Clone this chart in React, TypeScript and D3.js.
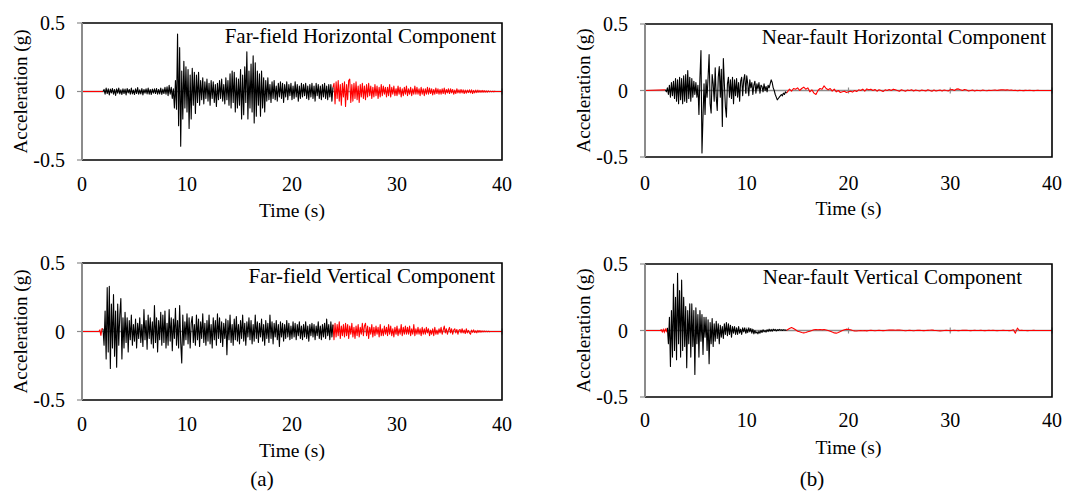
import React from 'react';
import * as d3 from 'd3';

// ---------- data ----------
const timeTicks = [0, 10, 20, 30, 40];
const accTicks = [-0.5, 0, 0.5];
const accTickLabels = ['-0.5', '0', '0.5'];
const panelTitles = [
  'Far-field Horizontal Component',
  'Near-fault Horizontal Component',
  'Far-field Vertical Component',
  'Near-fault Vertical Component',
];
const groupLabels = ['(a)', '(b)'];

// Far-field horizontal (black t0=2, dt=0.1 ; red t0=24, dt=0.1)
const ffhLead = [0, 0];
const ffhBlack = [
  0, 0.015, -0.02, 0.025, -0.015, 0.02, -0.025, 0.018, -0.01, 0.022,
  -0.02, 0.015, -0.028, 0.02, -0.012, 0.025, -0.018, 0.012, -0.022, 0.02,
  -0.015, 0.018, -0.025, 0.022, -0.01, 0.015, -0.02, 0.025, -0.018, 0.01,
  -0.022, 0.02, -0.015, 0.028, -0.02, 0.012, -0.018, 0.022, -0.025, 0.015,
  -0.012, 0.02, -0.018, 0.025, -0.02, 0.015, -0.022, 0.018, -0.012, 0.02,
  -0.015, 0.022, -0.02, 0.015, -0.018, 0.025, -0.022, 0.018, -0.015, 0.03,
  -0.02, 0.035, -0.03, 0.045, -0.02, 0.03, -0.05, 0.02, -0.12, 0.08,
  -0.13, 0.42, -0.25, 0.32, -0.4, 0.15, -0.2, 0.22, -0.12, 0.18,
  -0.15, 0.16, -0.27, 0.12, -0.2, 0.17, -0.1, 0.14, -0.16, 0.12,
  -0.08, 0.14, -0.1, 0.08, -0.06, 0.1, -0.09, 0.07, -0.05, 0.09,
  -0.07, 0.06, -0.1, 0.08, -0.05, 0.07, -0.08, 0.05, -0.11, 0.06,
  -0.06, 0.08, -0.05, 0.09, -0.07, 0.05, -0.09, 0.1, -0.06, 0.08,
  -0.1, 0.13, -0.12, 0.15, -0.08, 0.14, -0.15, 0.1, -0.12, 0.09,
  -0.1, 0.16, -0.2, 0.12, -0.17, 0.18, -0.08, 0.29, -0.2, 0.15,
  -0.12, 0.2, -0.15, 0.26, -0.23, 0.21, -0.18, 0.15, -0.1, 0.13,
  -0.18, 0.15, -0.12, 0.1, -0.15, 0.08, -0.07, 0.1, -0.06, 0.05,
  -0.08, 0.07, -0.05, 0.08, -0.06, 0.04, -0.07, 0.06, -0.04, 0.07,
  -0.05, 0.06, -0.08, 0.05, -0.04, 0.07, -0.06, 0.05, -0.03, 0.06,
  -0.06, 0.04, -0.05, 0.07, -0.04, 0.05, -0.07, 0.04, -0.05, 0.06,
  -0.04, 0.05, -0.03, 0.06, -0.05, 0.04, -0.06, 0.05, -0.04, 0.06,
  -0.05, 0.04, -0.07, 0.06, -0.03, 0.05, -0.05, 0.04, -0.06, 0.05,
  -0.04, 0.06, -0.05, 0.04, -0.06, 0.05, -0.04, 0.05, -0.07, 0.03,
];
const ffhRed = [
  0.06, -0.09, 0.07, -0.05, 0.08, -0.07, 0.05, -0.1, 0.06, -0.04,
  0.07, -0.11, 0.05, -0.06, 0.08, 0.09, -0.08, 0.05, -0.07, 0.06,
  -0.05, 0.07, -0.06, 0.04, -0.08, 0.05, -0.04, 0.06, -0.05, 0.04,
  -0.06, 0.05, -0.04, 0.06, -0.03, 0.04, -0.05, 0.03, -0.04, 0.05,
  -0.03, 0.04, -0.05, 0.03, -0.04, 0.05, -0.03, 0.04, -0.02, 0.03,
  -0.04, 0.03, -0.03, 0.05, -0.04, 0.03, -0.02, 0.04, -0.03, 0.02,
  -0.03, 0.04, -0.02, 0.03, -0.04, 0.02, -0.03, 0.03, -0.02, 0.04,
  -0.03, 0.02, -0.02, 0.03, -0.03, 0.02, -0.02, 0.04, -0.02, 0.03,
  -0.02, 0.02, -0.03, 0.03, -0.02, 0.02, -0.03, 0.02, -0.02, 0.03,
  -0.02, 0.025, -0.015, 0.02, -0.025, 0.015, -0.02, 0.025, -0.015, 0.02,
  -0.02, 0.015, -0.02, 0.02, -0.015, 0.025, -0.02, 0.015, -0.01, 0.02,
  -0.015, 0.02, -0.01, 0.015, -0.02, 0.01, -0.015, 0.02, -0.01, 0.012,
  -0.012, 0.015, -0.01, 0.012, -0.015, 0.01, -0.012, 0.01, -0.008, 0.012,
  -0.01, 0.012, -0.015, 0.008, -0.01, 0.01, -0.008, 0.01, -0.006, 0.008,
  -0.006, 0.008, -0.005, 0.006, -0.004, 0.005, -0.004, 0.004, -0.003, 0.003,
  -0.002, 0.002, -0.001, 0.001, 0,
];

// Near-fault horizontal (black t0=2, dt=0.1 ; red t0=14, dt=0.2)
const nfhLead = [0, 0];
const nfhBlack = [
  0.005, -0.01, 0.02, -0.03, 0.04, -0.05, 0.06, -0.04, 0.07, -0.06,
  0.09, -0.08, 0.08, -0.1, 0.1, -0.07, 0.09, -0.1, 0.11, -0.08,
  0.12, -0.09, 0.15, -0.06, 0.1, -0.08, 0.09, -0.05, 0.07, -0.03,
  0.06, -0.05, 0.04, -0.18, 0.1, 0.3, -0.47, -0.2, 0.05, -0.18,
  0.08, -0.05, 0.1, 0.27, -0.1, -0.17, 0.12, 0.05, -0.08, 0.17,
  -0.05, -0.15, 0.1, 0.18, -0.05, 0.16, -0.27, 0.24, 0.05, -0.12,
  -0.2, 0.05, 0.1, -0.05, 0.08, -0.06, 0.1, -0.1, 0.08, -0.04,
  0.09, -0.05, 0.06, -0.08, 0.07, 0.1, -0.04, 0.08, 0.12, -0.02,
  0.11, 0.05, -0.04, 0.08, 0.02, 0.06, -0.03, 0.04, 0.07, -0.02,
  0.05, 0.01, 0.06, -0.02, 0.04, 0.03, -0.01, 0.05, 0, 0.03,
  -0.01, 0.04, 0.02, 0.05, 0.08, 0.06, 0.02, 0, -0.03, -0.05,
  -0.07, -0.06, -0.05, -0.04, -0.03, -0.04, -0.02, -0.03, -0.01, -0.02,
];
const nfhRed = [
  -0.01, 0.01, -0.005, 0.015, 0.01, 0.02, 0, 0.015, 0.025, 0.01,
  0.02, -0.01, 0.005, -0.02, -0.03, 0, 0.015, 0.01, 0.035, 0.015,
  0.005, 0.015, -0.005, 0.01, -0.01, 0, -0.015, -0.01, -0.005, -0.015,
  -0.01, -0.005, -0.012, 0, -0.008, 0.005, 0, 0.01, -0.005, 0.012,
  0.005, 0.01, 0, 0.008, -0.005, 0.005, 0, -0.008, 0.005, 0,
  0.008, 0, 0.01, 0.005, 0, -0.005, 0.005, 0, -0.005, 0.003,
  0, 0.005, -0.003, 0.004, 0, -0.004, 0.003, 0, -0.003, 0.005,
  0, -0.005, 0.003, -0.004, 0, 0.003, -0.003, 0.004, 0, -0.003,
  0.005, 0.008, 0, 0.01, 0.012, 0.005, 0, 0.008, 0.003, -0.004,
  0, 0.003, -0.003, 0.002, 0, -0.002, 0.003, 0, -0.002, 0.002,
  0, 0.002, 0.004, 0, 0.003, 0.005, 0.006, 0.003, 0.005, 0.002,
  0.004, 0, 0.002, -0.002, 0.001, 0, -0.001, 0.001, 0, 0.001,
  0, -0.001, 0, 0.001, 0, 0, 0,
];

// Far-field vertical (lead t0=1.5, dt=0.1 ; black t0=2, dt=0.1 ; red t0=24, dt=0.1)
const ffvLead = [0, 0, 0.01, -0.03, 0.02];
const ffvBlack = [
  0.02, -0.1, 0.15, -0.2, 0.32, -0.15, 0.33, -0.27, 0.2, -0.12,
  0.27, -0.18, 0.15, -0.26, 0.2, -0.1, 0.12, 0.24, -0.2, 0.1,
  -0.12, 0.14, -0.08, 0.1, -0.15, 0.08, -0.06, 0.12, -0.1, 0.05,
  -0.07, 0.09, -0.12, 0.06, -0.05, 0.1, -0.08, 0.05, -0.11, 0.16,
  -0.06, 0.08, -0.13, 0.12, -0.05, 0.1, -0.09, 0.07, -0.12, 0.19,
  -0.08, 0.1, -0.15, 0.08, -0.06, 0.14, -0.1, 0.12, -0.08, 0.15,
  -0.12, 0.06, -0.1, 0.16, -0.07, 0.1, -0.14, 0.09, -0.05, 0.17,
  -0.1, 0.08, -0.12, 0.19, -0.08, -0.23, 0.12, -0.1, 0.07, -0.06,
  0.13, -0.09, 0.1, -0.12, 0.06, 0.11, -0.08, 0.05, -0.1, 0.12,
  -0.06, 0.09, -0.11, 0.07, -0.05, 0.13, -0.08, 0.06, -0.1, 0.08,
  -0.07, 0.12, -0.09, 0.05, -0.12, 0.1, -0.06, 0.08, -0.1, 0.13,
  -0.05, 0.1, -0.08, 0.07, -0.11, 0.06, -0.05, 0.09, -0.17, 0.08,
  -0.06, 0.12, -0.08, 0.05, -0.1, 0.09, -0.06, 0.11, -0.07, 0.05,
  -0.09, 0.08, -0.05, 0.12, -0.07, 0.06, -0.1, 0.07, -0.04, 0.1,
  -0.06, 0.08, -0.09, 0.05, -0.07, 0.12, -0.05, 0.07, -0.08, 0.06,
  -0.04, 0.09, -0.07, 0.05, -0.1, 0.08, -0.05, 0.06, -0.08, 0.12,
  -0.05, 0.07, -0.09, 0.06, -0.04, 0.08, -0.06, 0.05, -0.11, 0.07,
  -0.04, 0.06, -0.07, 0.05, -0.05, 0.08, -0.04, 0.06, -0.06, 0.04,
  -0.05, 0.07, -0.04, 0.06, -0.06, 0.05, -0.03, 0.07, -0.05, 0.04,
  -0.06, 0.05, -0.04, 0.07, -0.05, 0.04, -0.07, 0.05, -0.03, 0.06,
  -0.04, 0.05, -0.06, 0.04, -0.03, 0.07, -0.05, 0.04, -0.06, 0.05,
  -0.04, 0.06, -0.05, 0.09, -0.03, 0.05, -0.06, 0.07, -0.04, 0.05,
];
const ffvRed = [
  -0.06, 0.06, -0.04, 0.05, -0.03, 0.07, -0.05, 0.04, -0.03, 0.05,
  -0.04, 0.06, -0.03, 0.05, -0.05, 0.04, -0.02, 0.06, -0.04, 0.03,
  -0.05, 0.04, -0.03, 0.05, -0.04, 0.03, -0.02, 0.06, -0.03, 0.04,
  0.06, -0.03, 0.04, -0.05, 0.03, -0.02, 0.05, -0.04, 0.03, -0.03,
  0.04, -0.02, 0.03, -0.04, 0.05, -0.03, 0.02, -0.03, 0.04, -0.02,
  0.03, -0.03, 0.05, -0.02, 0.04, -0.03, 0.02, -0.04, 0.03, -0.02,
  0.04, -0.03, 0.02, -0.02, 0.05, -0.03, 0.03, -0.02, 0.04, -0.02,
  0.03, -0.02, 0.04, -0.03, 0.02, -0.02, 0.05, -0.03, 0.02, -0.02,
  0.03, -0.02, 0.02, -0.03, 0.03, -0.02, 0.02, -0.02, 0.03, -0.01,
  0.02, -0.03, 0.01, -0.02, 0.02, -0.03, 0.03, -0.02, 0.01, -0.02,
  0.02, -0.01, 0.03, -0.02, 0.01, 0.04, -0.01, 0.02, -0.02, 0.01,
  0.03, -0.01, 0.02, -0.02, 0.01, 0.02, -0.01, 0.015, -0.02, 0.01,
  0.015, -0.01, 0.02, -0.01, 0.01, -0.015, 0.02, -0.01, 0.008, -0.01,
  -0.02, 0.01, -0.005, 0.012, -0.008, 0.005, -0.01, 0.008, -0.005, 0.006,
  -0.004, 0.005, -0.003, 0.004, -0.002, 0.003, -0.002, 0.002, -0.001, 0,
];

// Near-fault vertical (lead t0=1.5, dt=0.1 ; black t0=2.2, dt=0.1 ; red t0=14, dt=0.2)
const nfvLead = [0, 0.005, -0.01, 0.008, -0.012, 0.01, -0.005];
const nfvBlack = [
  0.02, -0.1, 0.1, -0.27, 0.15, -0.2, 0.35, -0.15,
  0.25, -0.22, 0.43, -0.1, 0.3, -0.2, 0.38, -0.15, 0.25, -0.12,
  0.18, -0.28, 0.15, -0.1, 0.2, -0.2, 0.2, -0.12, 0.15, -0.33,
  0.17, -0.1, 0.12, -0.2, 0.15, -0.08, 0.12, -0.18, 0.1, -0.05,
  0.1, -0.15, 0.08, -0.25, 0.06, -0.1, 0.09, -0.12, 0.05, -0.08,
  0.07, -0.06, 0.05, -0.1, 0.04, -0.05, 0.03, -0.06, 0.05, -0.03,
  0.06, -0.04, 0.05, -0.03, 0.04, -0.05, 0.03, -0.02, 0.03, -0.03,
  0.02, -0.03, 0.03, -0.02, 0.01, -0.03, 0.02, -0.01, 0.02, -0.02,
  0.01, -0.015, 0.02, -0.01, 0.015, -0.02, 0.01, -0.025, 0, -0.02,
  -0.01, -0.025, -0.005, -0.02, 0, -0.015, 0.005, -0.01, 0, -0.012,
  0.005, -0.008, 0.01, -0.005, 0.008, -0.006, 0.01, 0, 0.008, -0.004,
  0.006, 0, 0.008, 0.002, 0.005, 0, 0.006, 0.003, 0.004, 0,
];
const nfvRed = [
  0.005, 0.015, 0.022, 0.015, 0.005, -0.005, -0.01, -0.015, -0.018, -0.015,
  -0.01, -0.005, 0, 0.005, 0.008, 0.006, 0.008, 0.005, 0.007, 0.004,
  0, -0.005, -0.012, -0.018, -0.02, -0.015, -0.008, 0, 0.006, 0.01,
  0.008, 0.005, 0, -0.003, -0.004, -0.002, 0, -0.002, 0, -0.003,
  0, 0.002, 0, -0.002, 0, 0.001, 0, -0.001, 0, 0.002,
  0.003, 0.004, 0.003, 0.002, 0.003, 0.004, 0.002, 0, -0.002, 0,
  0.002, 0, -0.002, 0, 0.002, 0.001, 0, -0.001, 0, 0.001,
  0.002, 0.003, 0.001, 0, -0.002, -0.003, -0.002, 0, 0.001, 0,
  -0.001, 0, 0.001, 0, -0.001, 0, 0.001, 0.002, 0.001, 0,
  -0.001, 0, 0.001, 0, 0, 0.001, 0, -0.001, 0, 0.001,
  0, 0.001, 0, -0.001, 0, 0, 0.001, 0, 0, -0.001,
  0, 0.005, -0.02, 0.018, 0, 0.001, 0, 0, -0.001, 0,
  0, 0.001, 0, 0, 0, 0, 0, 0, 0, 0, 0,
];

// ---------- helpers ----------
type Pt = [number, number];
const seg = (t0: number, dt: number, vals: number[]): Pt[] =>
  vals.map((v, i) => [t0 + i * dt, v] as Pt);

interface Rec {
  lead: Pt[];
  black: Pt[];
  red: Pt[];
}
function buildRec(lead: Pt[], black: Pt[], red: Pt[]): Rec {
  const leadFull = [...lead, black[0]];
  const redFull = [black[black.length - 1], ...red];
  const last = red[red.length - 1];
  if (last[0] < 40) redFull.push([40, 0]);
  return { lead: leadFull, black, red: redFull };
}

const records: Rec[] = [
  buildRec(seg(0, 2, ffhLead).slice(0, 1), seg(2, 0.1, ffhBlack), seg(24, 0.1, ffhRed)),
  buildRec(seg(0, 2, nfhLead).slice(0, 1), seg(2, 0.1, nfhBlack), seg(14, 0.2, nfhRed)),
  buildRec([[0, 0] as Pt, ...seg(1.5, 0.1, ffvLead)], seg(2, 0.1, ffvBlack), seg(24, 0.1, ffvRed)),
  buildRec([[0, 0] as Pt, ...seg(1.5, 0.1, nfvLead)], seg(2.2, 0.1, nfvBlack), seg(14, 0.2, nfvRed)),
];

const panels = [
  { left: 82, right: 502, top: 23, bottom: 160, titleX: 496, titleY: 43, tickLabY: 191, timeY: 217, accX: 20 },
  { left: 645, right: 1052, top: 24, bottom: 157, titleX: 1046, titleY: 44, tickLabY: 190, timeY: 215, accX: 583 },
  { left: 82, right: 502, top: 263, bottom: 400, titleX: 495, titleY: 283, tickLabY: 431, timeY: 457, accX: 20 },
  { left: 645, right: 1052, top: 264, bottom: 397, titleX: 1022, titleY: 284, tickLabY: 427, timeY: 454, accX: 583 },
];
const groupPos = [
  { x: 262, y: 486 },
  { x: 812, y: 486 },
];

const FONT = '"Liberation Serif", "Times New Roman", serif';

function Panel({ idx }: { idx: number }) {
  const p = panels[idx];
  const rec = records[idx];
  const x = d3.scaleLinear().domain([0, 40]).range([p.left, p.right]);
  const y = d3.scaleLinear().domain([-0.5, 0.5]).range([p.bottom, p.top]);
  const line = d3.line<Pt>().x((d) => x(d[0])).y((d) => y(d[1]));
  const y0 = y(0);
  return (
    <g>
      <line x1={p.left} x2={p.right} y1={y0} y2={y0} stroke="#8c8c8c" strokeWidth={1.5} />
      {timeTicks.map((t) => (
        <line key={'xt' + t} x1={x(t)} x2={x(t)} y1={y0 - 3} y2={y0 + 3} stroke="#8c8c8c" strokeWidth={1.2} />
      ))}
      <path d={line(rec.lead) || ''} fill="none" stroke="#ff0000" strokeWidth={1.1} />
      <path d={line(rec.red) || ''} fill="none" stroke="#ff0000" strokeWidth={1.1} strokeLinejoin="round" />
      <path d={line(rec.black) || ''} fill="none" stroke="#000" strokeWidth={1.1} strokeLinejoin="round" />
      <polyline
        points={`${p.left},${p.top} ${p.right},${p.top} ${p.right},${p.bottom} ${p.left},${p.bottom}`}
        fill="none" stroke="#000" strokeWidth={1.6}
      />
      <line x1={p.left} x2={p.left} y1={p.top} y2={p.bottom} stroke="#8c8c8c" strokeWidth={2} />
      {accTicks.map((a) => (
        <line key={'yt' + a} x1={p.left - 5} x2={p.left} y1={y(a)} y2={y(a)} stroke="#8c8c8c" strokeWidth={1.2} />
      ))}
      {accTicks.map((a, i) => (
        <text key={'yl' + a} x={p.left - 17} y={y(a)} dy="0.35em" textAnchor="end" fontSize={20} fontFamily={FONT} fill="#000">
          {accTickLabels[i]}
        </text>
      ))}
      {timeTicks.map((t) => (
        <text key={'xl' + t} x={x(t)} y={p.tickLabY} textAnchor="middle" fontSize={20} fontFamily={FONT} fill="#000">
          {t}
        </text>
      ))}
      <text x={(p.left + p.right) / 2} y={p.timeY} textAnchor="middle" fontSize={19.5} fontFamily={FONT} fill="#000">
        Time (s)
      </text>
      <text
        transform={`translate(${p.accX},${(p.top + p.bottom) / 2}) rotate(-90)`}
        textAnchor="middle" dy="0.35em" fontSize={19} fontFamily={FONT} fill="#000"
      >
        Acceleration (g)
      </text>
      <text x={p.titleX} y={p.titleY} textAnchor="end" fontSize={21} fontFamily={FONT} fill="#000">
        {panelTitles[idx]}
      </text>
    </g>
  );
}

export default function App() {
  return (
    <svg width={1070} height={492} style={{ position: 'absolute', left: 0, top: 0, background: '#fff' }}>
      <rect width={1070} height={492} fill="#fff" />
      {panels.map((_, i) => (
        <Panel key={i} idx={i} />
      ))}
      {groupLabels.map((g, i) => (
        <text key={g} x={groupPos[i].x} y={groupPos[i].y} textAnchor="middle" fontSize={21} fontFamily={FONT} fill="#000">
          {g}
        </text>
      ))}
    </svg>
  );
}
